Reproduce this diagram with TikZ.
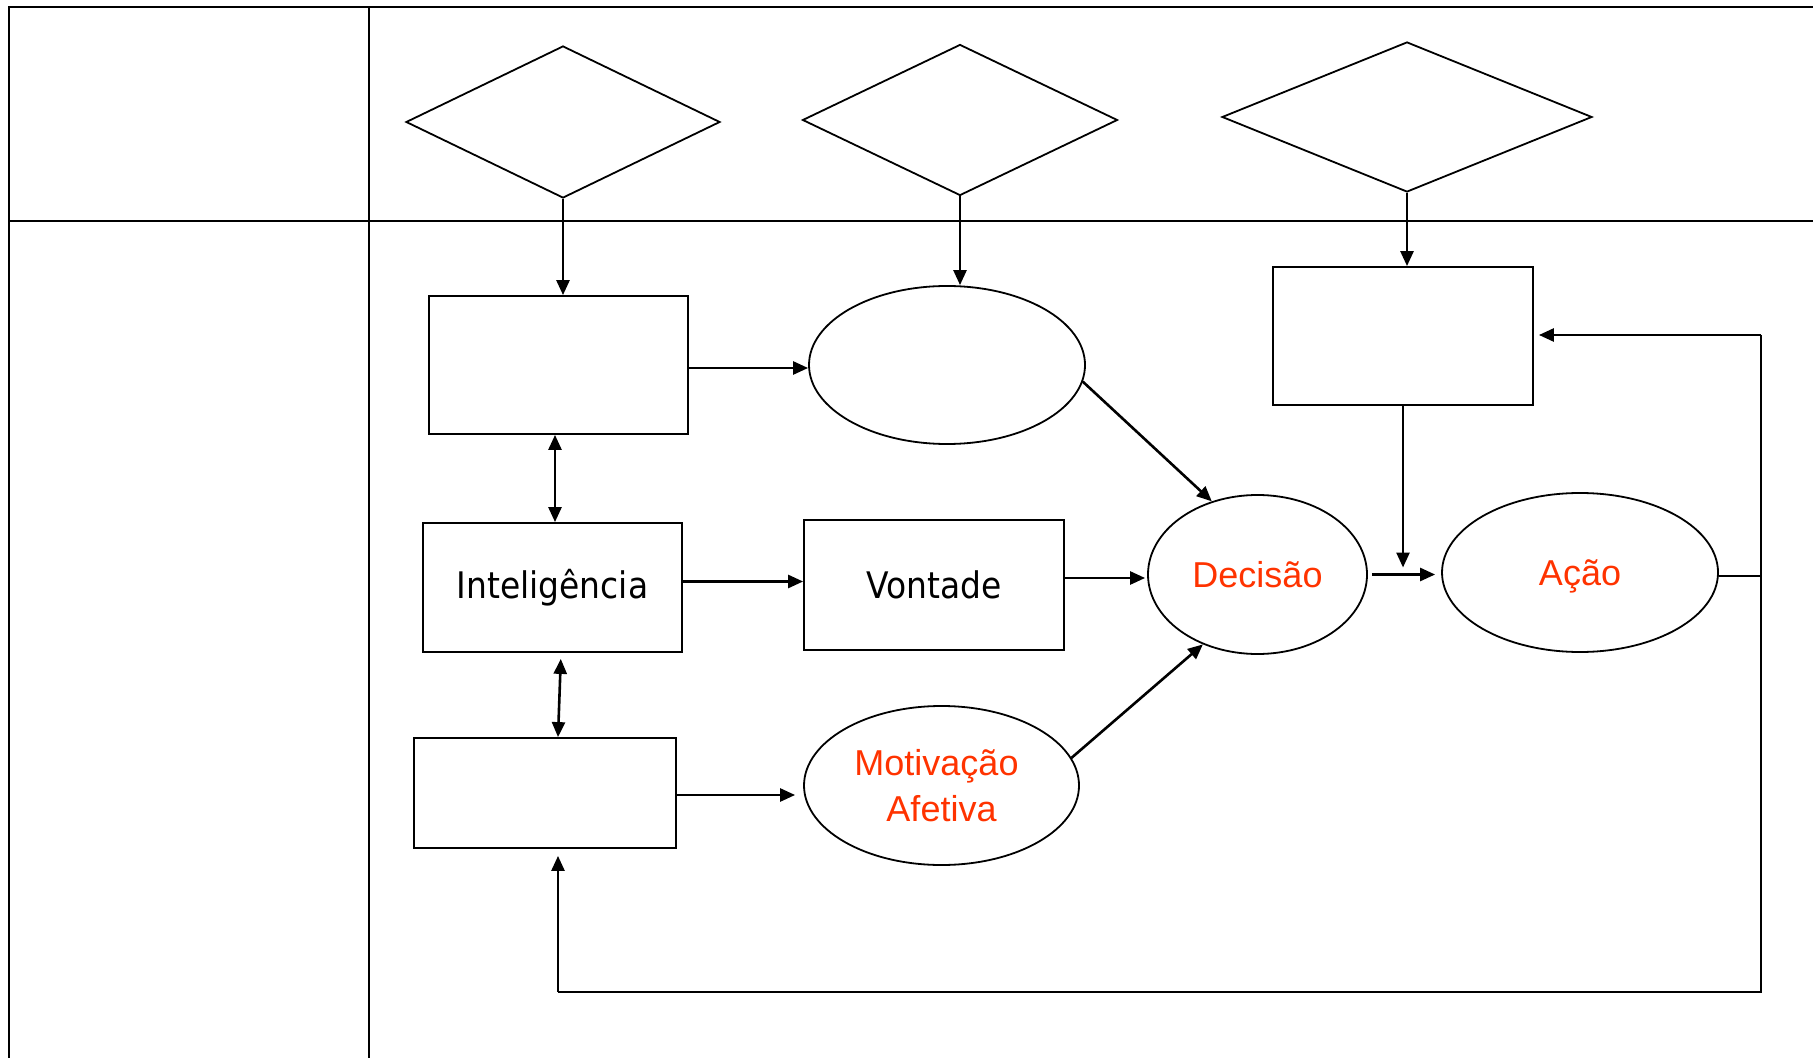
\documentclass[tikz,border=0pt]{standalone}
\usepackage{fontspec}
\usetikzlibrary{arrows.meta,shapes.geometric}
\newfontfamily\tahfont{DejaVu Sans Condensed}
\newfontfamily\arifont{Liberation Sans}
\definecolor{redtxt}{RGB}{255,51,0}
\begin{document}
\begin{tikzpicture}[x=0.5pt,y=-0.5pt,
  frame/.style={line width=1pt},
  shp/.style={draw,line width=0.9pt,inner sep=0pt},
  boxn/.style={shp,rectangle},
  ell/.style={shp,ellipse},
  dia/.style={shp,diamond},
  blk/.style={font=\tahfont\fontsize{18.3}{22}\selectfont},
  red/.style={text=redtxt,font=\arifont\fontsize{18}{22}\selectfont,align=center},
  arr/.style={line width=1.3pt,-{Triangle[length=7.5pt,width=6.5pt]}},
  arrb/.style={line width=1.3pt,{Triangle[length=7.5pt,width=6.5pt]}-{Triangle[length=7.5pt,width=6.5pt]}},
  fb/.style={line width=1.4pt}]
\useasboundingbox (0,0) rectangle (1813,1058);
% table frame
\draw[frame] (9,1058) -- (9,7) -- (1813,7);
\draw[frame] (369,7) -- (369,1058);
\draw[frame] (9,221) -- (1813,221);
% diamonds
\node[dia,minimum width=157pt,minimum height=76pt] (d1) at (563,122) {};
\node[dia,minimum width=157.5pt,minimum height=75.5pt] (d2) at (960,120) {};
\node[dia,minimum width=185pt,minimum height=75pt] (d3) at (1407,117) {};
% boxes and ellipses
\node[boxn,minimum width=129.5pt,minimum height=69pt] (b1) at (558.5,365) {};
\node[ell,minimum width=138pt,minimum height=79pt] (e1) at (947,365) {};
\node[boxn,minimum width=130pt,minimum height=69pt] (b3) at (1403,336) {};
\node[boxn,blk,minimum width=129.5pt,minimum height=64.5pt] (int) at (552.5,587.5) {Inteligência};
\node[boxn,blk,minimum width=130pt,minimum height=65pt] (vont) at (934,585) {Vontade};
\node[ell,red,text height=13pt,text depth=0pt,minimum width=109.5pt,minimum height=79.5pt] (dec) at (1257.5,574.5) {Decisão};
\node[ell,red,text height=13pt,text depth=0pt,minimum width=138pt,minimum height=79.5pt] (acao) at (1580,572.5) {Ação};
\node[boxn,minimum width=131pt,minimum height=55pt] (bbot) at (545,793) {};
\node[ell,red,minimum width=137.5pt,minimum height=79.5pt] (mot) at (941.5,785.5) {\hspace*{-5pt}Motivação\\[1pt]Afetiva};
% connectors
\draw[arr] (d1.south) -- (d1.south |- b1.north);
\draw[arr] (d2.south) -- (d2.south |- e1.north);
\draw[arr] (d3.south) -- (d3.south |- b3.north);
\draw[arr] ([yshift=-1.5pt]b1.east) -- ([yshift=-1.5pt]b1.east -| e1.west);
\draw[arr] (e1.-7.5) -- (dec.122);
\draw[arrb] ([xshift=-1.75pt]b1.south) -- ([xshift=-1.75pt]b1.south |- int.north);
\draw[arr] ([yshift=3pt]int.east) -- ([yshift=3pt]int.east -| vont.west);
\draw[arrb,shorten <=3pt] ([xshift=4.25pt]int.south) -- ([xshift=6.5pt]bbot.north);
\draw[arr,shorten >=1pt] ([yshift=3.5pt]vont.east) -- ([yshift=3.5pt]vont.east -| dec.west);
\draw[arr,shorten >=4pt] ([yshift=-1pt]bbot.east) -- ([yshift=-1pt]bbot.east -| mot.west);
\draw[arr] (mot.12.7) -- (dec.232.5);
\draw[arr,shorten >=2.5pt] (b3.south) -- (b3.south |- acao.west);
\draw[arr,shorten <=2pt,shorten >=3pt] (dec.east) -- (dec.east -| acao.west);
% feedback loop
\coordinate (rtop) at (1761,335);
\coordinate (rbot) at (1761,992);
\coordinate (lbot) at (558,992);
\draw[fb] ([yshift=-1.75pt]acao.east) -- ([yshift=-1.75pt]acao.east -| rtop);
\draw[fb] (rtop) -- (rbot) -- (lbot);
\draw[arr,shorten >=2.5pt] (rtop) -- (rtop -| b3.east);
\draw[arr,shorten >=3.5pt] (lbot) -- (lbot |- bbot.south);
\end{tikzpicture}
\end{document}
